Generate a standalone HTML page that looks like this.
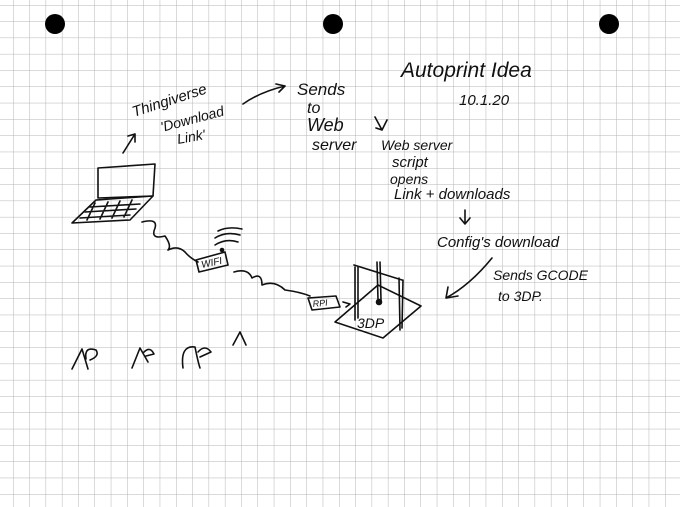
<!DOCTYPE html>
<html><head><meta charset="utf-8"><style>
html,body{margin:0;padding:0;background:#fff}
svg{display:block}
text{font-family:"Liberation Sans",sans-serif;fill:#111;font-style:italic}
</style></head><body>
<svg width="680" height="507" viewBox="0 0 680 507" xmlns="http://www.w3.org/2000/svg">
<defs>
<pattern id="g" x="13" y="5" width="16.3" height="16.3" patternUnits="userSpaceOnUse">
<path d="M0 0V16.3M0 0H16.3" stroke="#b5b5b5" stroke-width="1" fill="none"/>
</pattern>
</defs>
<rect width="680" height="507" fill="#fff"/>
<rect width="680" height="507" fill="url(#g)"/>
<circle cx="55" cy="24" r="10" fill="#000"/>
<circle cx="333" cy="24" r="10" fill="#000"/>
<circle cx="609" cy="24" r="10" fill="#000"/>
<g fill="none" stroke="#111" stroke-width="1.6" stroke-linecap="round" stroke-linejoin="round">
<path d="M98 168 L155 164 M98 168 L98 198 L153 196 L155 164"/>
<path d="M96 200 L153 196 L130 220 L72 223 Z"/>
<path d="M90 207 L140 204 M85 212 L136 209 M80 218 L130 215 M95 203 L87 220 M108 202 L100 219 M120 201 L112 218 M132 200 L124 217"/>
<path d="M123 153 L135 134 M128 136 L135 134 L135 142"/>
<path d="M243 104 Q260 92 285 86 M276 84 L285 86 L279 92"/>
<path d="M375 117 L382 130 L387 120 M382 130 L376 128"/>
<path d="M142 222 Q158 218 155 228 Q150 240 165 236 Q172 246 168 250 Q178 245 185 252 Q190 258 198 262"/>
<path d="M196 260 L225 252 L228 265 L199 272 Z"/>
<path d="M215 245 Q226 238 238 242 M215 238 Q226 231 240 235 M218 231 Q228 226 242 229"/>
<circle cx="222" cy="250" r="1.5" fill="#111"/>
<path d="M234 272 Q248 268 252 278 Q262 272 262 285 Q275 280 285 290 Q300 292 310 296"/>
<path d="M308 298 L336 296 L340 307 L312 310 Z"/>
<path d="M343 302 L350 304 L346 307"/>
<path d="M335 322 L378 285 L421 306 L383 338 Z"/>
<path d="M355 267 L355 320 M358 267 L358 318 M354 265 L402 280 M399 278 L400 330 M403 280 L402 328 M377 262 L378 300 M380 262 L381 300"/>
<circle cx="379" cy="302" r="2.5" fill="#111"/>
<path d="M492 258 Q470 285 446 298 M446 298 L448 287 M446 298 L458 296"/>
<path d="M465 210 L465 223 M460 218 L465 224 L470 218"/>
<path d="M72 369 L82 349 L88 369 M86 359 Q84 346 96 350 Q100 356 90 360"/>
<path d="M132 368 L140 348 L148 362 M144 352 Q150 346 154 354 L146 356"/>
<path d="M183 368 Q180 345 195 347 Q198 362 200 368 M198 352 Q205 344 211 352 L200 357"/>
<path d="M233 345 L240 332 L246 345"/>
</g>
<text x="401" y="77" font-size="21" font-style="normal">Autoprint Idea</text>
<text x="459" y="105" font-size="15" font-style="normal">10.1.20</text>
<text x="134" y="117" font-size="15" transform="rotate(-18 134 117)">Thingiverse</text>
<text x="162" y="132" font-size="14" transform="rotate(-15 162 132)">'Download</text>
<text x="178" y="144" font-size="14" transform="rotate(-10 178 144)">Link'</text>
<text x="297" y="95" font-size="17">Sends</text>
<text x="307" y="113" font-size="16">to</text>
<text x="307" y="131" font-size="18">Web</text>
<text x="312" y="150" font-size="16">server</text>
<text x="381" y="150" font-size="14">Web server</text>
<text x="392" y="167" font-size="15">script</text>
<text x="390" y="184" font-size="14">opens</text>
<text x="394" y="199" font-size="15">Link + downloads</text>
<text x="437" y="247" font-size="15">Config's download</text>
<text x="493" y="280" font-size="14">Sends GCODE</text>
<text x="498" y="301" font-size="14">to 3DP.</text>
<text x="202" y="268" font-size="10" transform="rotate(-12 202 268)">WIFI</text>
<text x="313" y="307" font-size="9" font-style="normal" transform="rotate(-6 313 307)">RPI</text>
<text x="357" y="328" font-size="14" font-style="normal">3DP</text>
</svg>
</body></html>
